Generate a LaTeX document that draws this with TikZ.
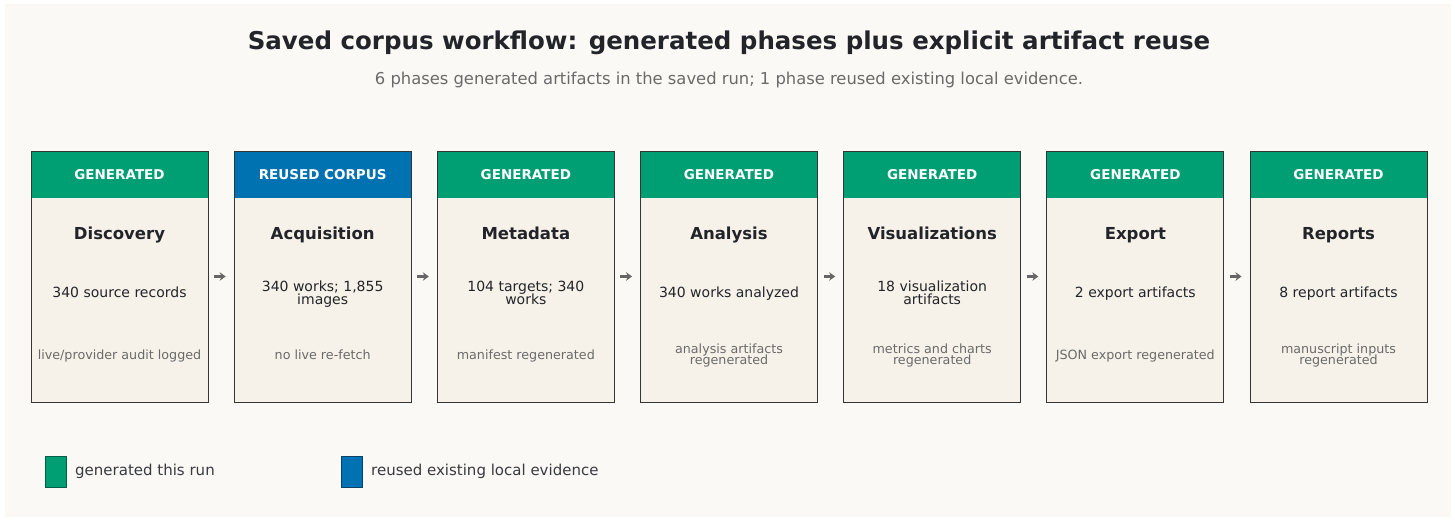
\documentclass[tikz,border=0pt]{standalone}
\usepackage{fontspec}
\setmainfont{DejaVu Sans}
\usetikzlibrary{arrows.meta,positioning}

\definecolor{hintergrund}{HTML}{FAF9F5}
\definecolor{koerper}{HTML}{F6F2E9}
\definecolor{rahmen}{HTML}{353535}
\definecolor{gen}{HTML}{009E73}
\definecolor{reu}{HTML}{0072B2}
\definecolor{dunkel}{HTML}{22242A}
\definecolor{grau}{HTML}{6A6A6A}
\definecolor{pfeil}{HTML}{666666}

\begin{document}
\begin{tikzpicture}[x=1pt,y=-1pt,
		phase/.style={fill=koerper,minimum width=177pt,minimum height=251pt,inner sep=0pt,outer sep=0pt},
		kopf/.style={anchor=north,minimum width=177pt,minimum height=47pt,inner sep=0pt,outer sep=0pt,text=white,font=\bfseries\fontsize{13.5}{13.5}\selectfont},
		umriss/.style={draw=rahmen,line width=0.9pt},
		titel/.style={anchor=base,inner sep=0pt,text=dunkel,font=\bfseries\fontsize{16.5}{16.5}\selectfont},
		zahl/.style={anchor=base,align=center,inner sep=0pt,text=dunkel,font={\fontsize{14}{13.2}\selectfont\lineskiplimit-50pt\relax}},
		notiz/.style={anchor=base,align=center,inner sep=0pt,text=grau,font={\fontsize{12.7}{11}\selectfont\lineskiplimit-50pt\relax}},
		fluss/.style={-{Stealth[length=6pt,width=8.5pt]},line width=2.2pt,draw=pfeil,shorten <=6pt,shorten >=8.5pt},
		legende/.style={anchor=west,inner sep=0pt,text=dunkel!90,font=\fontsize{15}{15}\selectfont}]
		\useasboundingbox (0,0) rectangle (1455,521);
		\fill[hintergrund] (5,4) rectangle (1451,517);

		% Ueberschrift
		\node[anchor=base,inner sep=0pt,text=dunkel,font=\bfseries\fontsize{24.5}{24.5}\selectfont] (kopfzeile) at (729,49.3) {Saved corpus workflow: generated phases plus explicit artifact reuse};
		\node[anchor=base,inner sep=0pt,text=grau,font=\fontsize{16.35}{16.35}\selectfont] (unterzeile) at (729,85) {6 phases generated artifacts in the saved run; 1 phase reused existing local evidence.};

		% Discovery
		\node[phase] (disc) at (119.5,276.5) {};
		\node[kopf,fill=gen] (disck) at (disc.north) {GENERATED};
		\draw[umriss] (disc.north west) rectangle (disc.south east);
		\node[titel] at ([yshift=-88.3pt]disc.north) {Discovery};
		\node[zahl] at ([yshift=-146.7pt]disc.north) {340 source records};
		\node[notiz] at ([yshift=-208pt]disc.north) {live/provider audit logged};

		% Acquisition
		\node[phase] (acq) at (322.67,276.5) {};
		\node[kopf,fill=reu] (acqk) at (acq.north) {REUSED CORPUS};
		\draw[umriss] (acq.north west) rectangle (acq.south east);
		\node[titel] at ([yshift=-88.3pt]acq.north) {Acquisition};
		\node[zahl] at ([yshift=-153.6pt]acq.north) {340 works; 1,855\\images};
		\node[notiz] at ([yshift=-208pt]acq.north) {no live re-fetch};

		% Metadata
		\node[phase] (meta) at (525.83,276.5) {};
		\node[kopf,fill=gen] (metak) at (meta.north) {GENERATED};
		\draw[umriss] (meta.north west) rectangle (meta.south east);
		\node[titel] at ([yshift=-88.3pt]meta.north) {Metadata};
		\node[zahl] at ([yshift=-153.6pt]meta.north) {104 targets; 340\\works};
		\node[notiz] at ([yshift=-208pt]meta.north) {manifest regenerated};

		% Analysis
		\node[phase] (ana) at (729,276.5) {};
		\node[kopf,fill=gen] (anak) at (ana.north) {GENERATED};
		\draw[umriss] (ana.north west) rectangle (ana.south east);
		\node[titel] at ([yshift=-88.3pt]ana.north) {Analysis};
		\node[zahl] at ([yshift=-146.7pt]ana.north) {340 works analyzed};
		\node[notiz] at ([yshift=-213.3pt]ana.north) {analysis artifacts\\regenerated};

		% Visualizations
		\node[phase] (vis) at (932.17,276.5) {};
		\node[kopf,fill=gen] (visk) at (vis.north) {GENERATED};
		\draw[umriss] (vis.north west) rectangle (vis.south east);
		\node[titel] at ([yshift=-88.3pt]vis.north) {Visualizations};
		\node[zahl] at ([yshift=-153.6pt]vis.north) {18 visualization\\artifacts};
		\node[notiz] at ([yshift=-213.3pt]vis.north) {metrics and charts\\regenerated};

		% Export
		\node[phase] (exp) at (1135.33,276.5) {};
		\node[kopf,fill=gen] (expk) at (exp.north) {GENERATED};
		\draw[umriss] (exp.north west) rectangle (exp.south east);
		\node[titel] at ([yshift=-88.3pt]exp.north) {Export};
		\node[zahl] at ([yshift=-146.7pt]exp.north) {2 export artifacts};
		\node[notiz] at ([yshift=-208pt]exp.north) {JSON export regenerated};

		% Reports
		\node[phase] (rep) at (1338.5,276.5) {};
		\node[kopf,fill=gen] (repk) at (rep.north) {GENERATED};
		\draw[umriss] (rep.north west) rectangle (rep.south east);
		\node[titel] at ([yshift=-88.3pt]rep.north) {Reports};
		\node[zahl] at ([yshift=-146.7pt]rep.north) {8 report artifacts};
		\node[notiz] at ([yshift=-213.3pt]rep.north) {manuscript inputs\\regenerated};

		% Pfeile zwischen den Phasen
		\draw[fluss] (disc) -- (acq);
		\draw[fluss] (acq) -- (meta);
		\draw[fluss] (meta) -- (ana);
		\draw[fluss] (ana) -- (vis);
		\draw[fluss] (vis) -- (exp);
		\draw[fluss] (exp) -- (rep);

		% Legende
		\draw[fill=gen,draw=gen!60!black,line width=0.5pt] (45,456) rectangle (66,487);
		\node[legende] (lgen) at (75,471) {generated this run};
		\draw[fill=reu,draw=reu!60!black,line width=0.5pt] (341,456) rectangle (362,487);
		\node[legende] (lreu) at (371,471) {reused existing local evidence};
	\end{tikzpicture}
\end{document}
